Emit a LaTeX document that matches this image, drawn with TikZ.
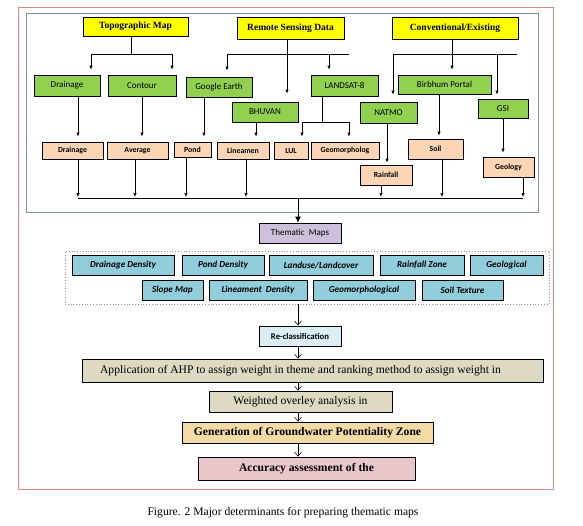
\documentclass[tikz,border=0pt]{standalone}
\usepackage{fontspec}
\setmainfont{Liberation Serif}
\newfontfamily\calibri{Carlito}
\usetikzlibrary{arrows.meta}

\definecolor{srcyellow}{HTML}{FFFF00}
\definecolor{datagreen}{HTML}{92D050}
\definecolor{layerpeach}{HTML}{FCD5B4}
\definecolor{themeblue}{HTML}{92CDDC}
\definecolor{mapslilac}{HTML}{CCC0DA}
\definecolor{reclassblue}{HTML}{DAEEF3}
\definecolor{procgrey}{HTML}{DDD9C3}
\definecolor{gengold}{HTML}{F2DBA4}
\definecolor{accpink}{HTML}{E9C6CA}
\definecolor{framered}{HTML}{E08585}
\definecolor{frameblue}{HTML}{8090B0}
\definecolor{dotlilac}{HTML}{B07CC6}

\begin{document}
\begin{tikzpicture}[x=1pt,y=-1pt,
    box/.style={draw,line width=0.8pt,inner sep=0pt,minimum height=20pt},
    src/.style={box,fill=srcyellow,font=\fontsize{9.5}{11}\selectfont\bfseries},
    data/.style={box,fill=datagreen,font=\calibri\fontsize{9}{10}\selectfont},
    layer/.style={box,fill=layerpeach,minimum height=17pt,font=\calibri\bfseries\fontsize{7.8}{9}\selectfont},
    theme/.style={box,fill=themeblue,font=\calibri\bfseries\itshape\fontsize{9.2}{10}\selectfont},
    proc/.style={box,fill=procgrey,font=\fontsize{11.6}{13}\selectfont},
    line/.style={line width=0.8pt},
    arr/.style={line,-{Latex[length=4pt,width=3.5pt]},shorten >=5pt},
    openarr/.style={line width=0.6pt,-{Straight Barb[length=4pt,width=7pt]}}]
	\useasboundingbox (0,0) rectangle (583,525);
	\draw[framered,line width=0.8pt] (18,7) rectangle (553,489);
	\draw[frameblue,line width=0.8pt] (26,13) rectangle (538,212);

	% sources
	\node[src,minimum width=105pt,minimum height=19pt] (topo) at (135.5,26.5) {Topographic Map};
	\node[src,minimum width=107pt,minimum height=22pt] (remote) at (290.5,28) {Remote Sensing Data};
	\node[src,minimum width=126pt,minimum height=22pt] (conv) at (455,28) {Conventional/Existing};

	% data
	\node[data,minimum width=66pt,minimum height=21pt] (drainM) at (67,85.5) {Drainage};
	\node[data,minimum width=68pt,minimum height=21pt] (contour) at (142,85.5) {Contour};
	\node[data,minimum width=66pt] (google) at (219,87) {Google Earth};
	\node[data,minimum width=66pt] (bhuvan) at (265,112) {BHUVAN};
	\node[data,minimum width=67pt,minimum height=21pt] (landsat) at (344.5,85.5) {LANDSAT-8};
	\node[data,minimum width=93pt,minimum height=19pt] (birbhum) at (444.5,84.5) {Birbhum Portal};
	\node[data,minimum width=57pt,minimum height=21pt] (natmo) at (388.5,112.5) {NATMO};
	\node[data,minimum width=50pt,minimum height=19pt] (gsi) at (503,108.5) {GSI};

	% layers
	\node[layer,minimum width=61pt] (drainL) at (72.5,150.5) {Drainage};
	\node[layer,minimum width=61pt] (average) at (137.5,150.5) {Average};
	\node[layer,minimum width=37pt,minimum height=15pt] (pond) at (192.5,149.5) {Pond};
	\node[layer,minimum width=52pt] (lineamen) at (243,150.5) {Lineamen};
	\node[layer,minimum width=34pt] (lul) at (291,150.5) {LUL};
	\node[layer,minimum width=68pt] (geomorph) at (345,150.5) {Geomorpholog};
	\node[layer,minimum width=55pt,minimum height=20pt] (soil) at (435.5,149) {Soil};
	\node[layer,minimum width=52pt,minimum height=20pt] (rainfall) at (386,175) {Rainfall};
	\node[layer,minimum width=51pt,minimum height=20pt] (geology) at (508.5,167) {Geology};

	% topographic map
	\coordinate (tJ) at (131,54);
	\coordinate (tL) at (91,54);
	\coordinate (tR) at (172,54);
	\draw[line] (tJ |- topo.south) -- (tJ);
	\draw[line] (tL) -- (tR);
	\draw[arr] (tL) -- (tL |- drainM.north);
	\draw[arr] (tR) -- (tR |- contour.north);

	% remote sensing data
	\coordinate (rJ) at (287,54);
	\coordinate (rL) at (227,54);
	\coordinate (rS) at (329,54);
	\coordinate (rR) at (349,54);
	\draw[line] (rL) -- (rR);
	\draw[arr,shorten >=8pt] (rJ |- remote.south) -- (rJ |- bhuvan.north);
	\draw[arr,shorten >=6pt] (rL) -- (rL |- google.north);
	\draw[arr] (rS) -- (rS |- landsat.north);

	% conventional data
	\coordinate (cJ) at (452,54);
	\coordinate (cL) at (393,54);
	\coordinate (cS) at (497,54);
	\coordinate (cR) at (517,54);
	\draw[line] (cL) -- (cR);
	\draw[arr] (cJ |- conv.south) -- (cJ |- birbhum.north);
	\draw[arr,shorten >=7pt] (cL) -- (cL |- natmo.north);
	\draw[arr,shorten >=4pt] (cS) -- (cS |- gsi.north);

	% data to layers
	\coordinate (x1) at (78,0);
	\coordinate (x2) at (142,0);
	\coordinate (x3) at (204,0);
	\coordinate (x4) at (256,0);
	\coordinate (x5) at (387,0);
	\coordinate (x6) at (439,0);
	\coordinate (x7) at (503,0);
	\draw[arr] (x1 |- drainM.south) -- (x1 |- drainL.north);
	\draw[arr] (x2 |- contour.south) -- (x2 |- average.north);
	\draw[arr] (x3 |- google.south) -- (x3 |- pond.north);
	\draw[arr] (x4 |- bhuvan.south) -- (x4 |- lineamen.north);
	\draw[arr,shorten >=2pt] (x5 |- natmo.south) -- (x5 |- rainfall.north);
	\draw[arr,shorten >=3pt] (x6 |- birbhum.south) -- (x6 |- soil.north);
	\draw[arr,shorten >=4pt] (x7 |- gsi.south) -- (x7 |- geology.north);
	\coordinate (lJ) at (322,122);
	\coordinate (lL) at (302,122);
	\coordinate (lR) at (349,122);
	\draw[line] (lJ |- landsat.south) -- (lJ);
	\draw[line] (lL) -- (lR);
	\draw[arr] (lL) -- (lL |- lul.north);
	\draw[arr] (lR) -- (lR |- geomorph.north);

	% layers to thematic maps
	\coordinate (bL) at (78,198);
	\coordinate (bR) at (523,198);
	\coordinate (bJ) at (298,198);
	\draw[line] (bL) -- (bR);
	\draw[arr,shorten >=1pt] (drainL.south -| bL) -- (bL);
	\draw[arr,shorten >=1pt] (average.south -| 135,0) -- (135,198);
	\draw[arr,shorten >=1pt] (pond.south -| 186,0) -- (186,198);
	\draw[arr,shorten >=1pt] (lineamen.south -| 246,0) -- (246,198);
	\draw[arr,shorten >=1pt] (rainfall.south -| 381,0) -- (381,198);
	\draw[arr,shorten >=1pt] (soil.south -| 442,0) -- (442,198);
	\draw[arr,shorten >=1pt] (geology.south -| bR) -- (bR);

	\node[box,fill=mapslilac,minimum width=82pt,font=\calibri\fontsize{9}{10}\selectfont] (maps) at (300,233) {Thematic\ \ Maps};
	\draw[line,-{Latex[length=6pt,width=6pt]}] (bJ) -- (bJ |- maps.north);

	% thematic layers
	\node[draw=dotlilac,dotted,line width=0.8pt,minimum width=484pt,minimum height=53pt] (themes) at (307,277.5) {};
	\node[theme,minimum width=102pt] (dd) at (123,265) {Drainage Density};
	\node[theme,minimum width=82pt] (pd) at (223,265) {Pond Density};
	\node[theme,minimum width=104pt] (lulc) at (321,265) {Landuse/Landcover};
	\node[theme,minimum width=84pt] (rz) at (422,265) {Rainfall Zone};
	\node[theme,minimum width=73pt] (geol) at (506.5,265) {Geological};
	\node[theme,minimum width=61pt] (slope) at (172.5,290) {Slope Map};
	\node[theme,minimum width=98pt] (ld) at (258,290) {Lineament\ \ Density};
	\node[theme,minimum width=102pt] (gm) at (364,290) {Geomorphological};
	\node[theme,minimum width=81pt] (st) at (462.5,290) {Soil Texture};

	% analysis
	\node[box,fill=reclassblue,minimum width=82pt,font=\calibri\bfseries\fontsize{8.7}{10}\selectfont] (reclass) at (300,336) {Re-classification};
	\node[proc,minimum width=461pt,minimum height=23pt] (ahp) at (312.5,370.5) {Application of AHP to assign weight in theme and ranking method to assign weight in\hspace*{24pt}};
	\node[proc,minimum width=183pt,minimum height=21pt] (overlay) at (300.5,401.5) {Weighted overley analysis in};
	\node[proc,fill=gengold,minimum width=251pt,minimum height=21pt,font=\fontsize{11.6}{13}\selectfont\bfseries] (gwpz) at (307.5,432.5) {Generation of Groundwater Potentiality Zone};
	\node[proc,fill=accpink,minimum width=217pt,minimum height=23pt,font=\fontsize{11.6}{13}\selectfont\bfseries] (accuracy) at (306.5,468.5) {Accuracy assessment of the};

	\coordinate (col) at (298,0);
	\draw[openarr] (col |- themes.south) -- ++(0,21);
	\draw[openarr] (col |- reclass.south) -- (col |- ahp.north);
	\draw[openarr] (col |- ahp.south) -- (col |- overlay.north);
	\draw[openarr] (col |- overlay.south) -- (col |- gwpz.north);
	\draw[openarr] (col |- gwpz.south) -- (col |- accuracy.north);

	\node[font=\fontsize{11.6}{13}\selectfont] (caption) at (283,513) {Figure. 2 Major determinants for preparing thematic maps};
\end{tikzpicture}
\end{document}
